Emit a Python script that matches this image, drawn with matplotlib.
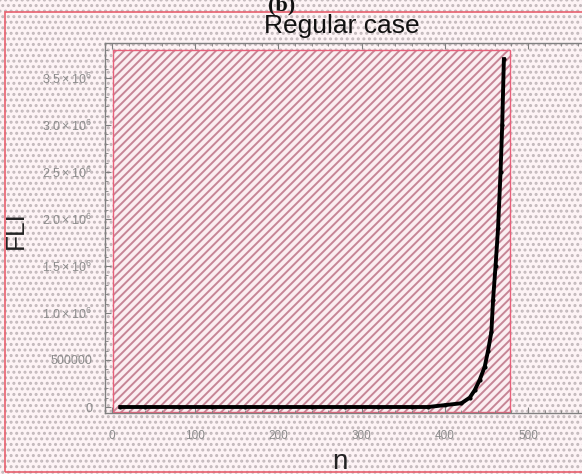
import numpy as np
import matplotlib.pyplot as plt
from matplotlib.patches import Rectangle
from matplotlib.ticker import FixedLocator, MultipleLocator

# FLI vs iteration n (regular orbit)
n_vals = [10, 40, 80, 120, 160, 200, 240, 280, 320, 360, 380,
          400, 420, 430, 436, 442, 448, 452, 456, 458, 461, 464, 467, 469, 471]
fli_vals = [0, 0, 0, 0, 0, 0, 0, 0, 0, 0, 0,
            2e4, 4e4, 1.0e5, 1.8e5, 2.9e5, 4.3e5, 6.0e5, 8.0e5, 1.14e6,
            1.5e6, 1.9e6, 2.5e6, 3.0e6, 3.7e6]

xticks = [0, 100, 200, 300, 400, 500]
yticks = [0, 5e5, 1.0e6, 1.5e6, 2.0e6, 2.5e6, 3.0e6, 3.5e6]
ytick_labels = ['0', '500000', r'$1.0\times10^{6}$', r'$1.5\times10^{6}$',
                r'$2.0\times10^{6}$', r'$2.5\times10^{6}$',
                r'$3.0\times10^{6}$', r'$3.5\times10^{6}$']

plt.rcParams['font.family'] = ['Liberation Sans', 'DejaVu Sans']
plt.rcParams['mathtext.fontset'] = 'custom'
plt.rcParams['mathtext.rm'] = 'Liberation Sans'
plt.rcParams['hatch.linewidth'] = 1.4

W, H = 582, 474
fig = plt.figure(figsize=(W/100, H/100), dpi=100, facecolor='#fdf3f5')

# dotted page background + red outer border
bg = Rectangle((0, 0), 1, 1, transform=fig.transFigure, facecolor='#fdf3f5',
               edgecolor='#c2b8bb', hatch='...', linewidth=0, zorder=-10)
fig.patches.append(bg)
border = Rectangle((5/W, 1-472/H), 1.2, (472-12)/H, transform=fig.transFigure,
                   fill=False, edgecolor='#e8606e', linewidth=1.2, zorder=-9)
fig.patches.append(border)

ax = fig.add_axes([105/W, 1-413/H, (W-105)/W, (413-43)/H])
ax.set_facecolor('none')
ax.set_xlim(-8.4, 564.9)
ax.set_ylim(-63800, 3.872e6)

# plot range region
reg = Rectangle((1.2, -53000), 476.8, 3.853e6, facecolor='#fbeef1',
                edgecolor='#c68596', hatch='////', linewidth=0, zorder=0)
ax.add_patch(reg)
ax.add_patch(Rectangle((1.2, -53000), 476.8, 3.853e6, fill=False,
                       edgecolor='#e8607a', linewidth=1.0, zorder=1))

ax.plot(n_vals, fli_vals, color='black', lw=2.8, marker='o', ms=2, zorder=3)

for s in ['left', 'bottom', 'top']:
    ax.spines[s].set_color('#808080')
    ax.spines[s].set_linewidth(1.0)
ax.spines['right'].set_visible(False)

ax.xaxis.set_major_locator(FixedLocator(xticks))
ax.xaxis.set_minor_locator(MultipleLocator(20))
ax.yaxis.set_major_locator(FixedLocator(yticks))
ax.yaxis.set_minor_locator(MultipleLocator(1e5))
ax.set_yticklabels(ytick_labels)
ax.tick_params(which='both', direction='in', top=True, right=False, color='#808080')
ax.tick_params(which='major', length=4, labelsize=9, labelcolor='#8c8c8c', width=0.8)
ax.tick_params(which='minor', length=2, width=0.6)
ax.tick_params(axis='x', pad=12, labelsize=8.5)
ax.tick_params(axis='y', pad=9)

fig.text(16/W, 1-230/H, 'FLI', rotation=90, ha='center', va='center',
         fontsize=19, color='#222222')
fig.text(340/W, 1-462/H, 'n', ha='center', va='center', fontsize=20, color='#222222')
fig.text(342/W, 1-33/H, 'Regular case', ha='center', va='baseline',
         fontsize=19, color='#111111')
fig.text(282/W, 1-10/H, '(b)', ha='center', va='baseline', fontsize=16,
         fontweight='bold', family='Liberation Serif', color='#111111')

fig.savefig('out.png', dpi=100, facecolor=fig.get_facecolor())
